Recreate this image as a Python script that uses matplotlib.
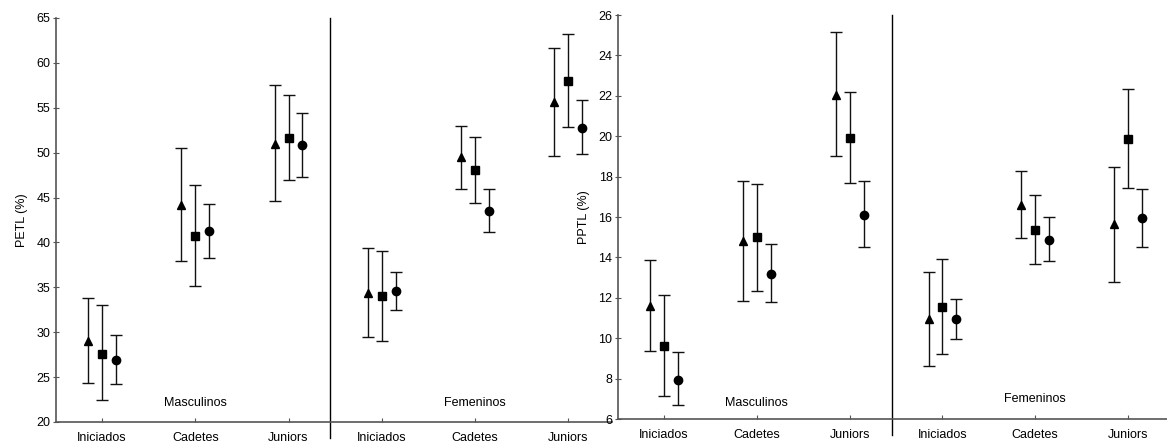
import matplotlib
matplotlib.use("Agg")
import matplotlib.pyplot as plt
import numpy as np

plt.rcParams['font.family'] = ['Liberation Sans', 'DejaVu Sans']

categories = ["Iniciados", "Cadetes", "Juniors", "Iniciados", "Cadetes", "Juniors"]
groups = ["Masculinos", "Femeninos"]

# PETL (%) : mean, upper, lower for triangle / square / circle series
petl_tri = [29.0, 44.2, 51.0, 34.4, 49.5, 55.6]
petl_tri_hi = [33.8, 50.5, 57.5, 39.4, 53.0, 61.7]
petl_tri_lo = [24.3, 37.9, 44.6, 29.5, 46.0, 49.6]
petl_sq = [27.6, 40.7, 51.6, 34.0, 48.1, 58.0]
petl_sq_hi = [33.0, 46.4, 56.4, 39.0, 51.8, 63.2]
petl_sq_lo = [22.4, 35.2, 46.9, 29.0, 44.4, 52.9]
petl_ci = [26.9, 41.3, 50.8, 34.6, 43.5, 52.8]
petl_ci_hi = [29.7, 44.3, 54.4, 36.7, 45.9, 55.9]
petl_ci_lo = [24.2, 38.3, 47.3, 32.5, 41.2, 49.8]

# PPTL (%)
pptl_tri = [11.6, 14.8, 22.05, 10.95, 16.6, 15.65]
pptl_tri_hi = [13.85, 17.8, 25.15, 13.3, 18.3, 18.5]
pptl_tri_lo = [9.35, 11.85, 19.0, 8.6, 14.95, 12.8]
pptl_sq = [9.6, 15.0, 19.9, 11.55, 15.35, 19.85]
pptl_sq_hi = [12.15, 17.65, 22.2, 13.9, 17.1, 22.35]
pptl_sq_lo = [7.15, 12.35, 17.7, 9.2, 13.65, 17.45]
pptl_ci = [7.95, 13.2, 16.1, 10.95, 14.85, 15.95]
pptl_ci_hi = [9.3, 14.65, 17.8, 11.95, 16.0, 17.4]
pptl_ci_lo = [6.7, 11.8, 14.5, 9.95, 13.8, 14.5]

W, H = 1167, 446
fig = plt.figure(figsize=(W / 100, H / 100), dpi=100)

def px_axes(l, r, top, bottom):
    return fig.add_axes([l / W, (H - bottom) / H, (r - l) / W, (bottom - top) / H])

ax1 = px_axes(56, 612, 18, 422)
ax2 = px_axes(618, 1167, 15, 419)

x = np.arange(len(categories))
off = 0.15
spine_col = "#555555"

def draw(ax, series, ylim, yticks, ylabel, xlim, divider, label_ys):
    for (mean, hi, lo, mk, ms), dx in zip(series, (-off, 0, off)):
        mean = np.array(mean); hi = np.array(hi); lo = np.array(lo)
        yerr = np.vstack([mean - lo, hi - mean])
        ax.errorbar(x + dx, mean, yerr=yerr, fmt=mk, color="black", ms=ms,
                    ecolor="#111111", elinewidth=1.0, capsize=4.2, capthick=1.0,
                    zorder=3)
    ax.set_xlim(*xlim)
    ax.set_ylim(*ylim)
    ax.set_yticks(yticks)
    ax.set_xticks(x)
    ax.set_xticklabels(categories, fontsize=9)
    ax.tick_params(axis="y", labelsize=9, direction="inout", length=4,
                   color=spine_col, pad=2)
    ax.tick_params(axis="x", direction="in", length=3, color=spine_col, pad=7)
    ax.set_ylabel(ylabel, fontsize=9, labelpad=6)
    for s in ("top", "right"):
        ax.spines[s].set_visible(False)
    for s in ("left", "bottom"):
        ax.spines[s].set_color(spine_col)
        ax.spines[s].set_linewidth(1.2)
    ax.axvline(divider, ymin=-0.04, ymax=1.0, color="black", lw=1.0,
               clip_on=False)
    ax.text(1, label_ys[0], groups[0], ha="center", va="center", fontsize=9,
            transform=ax.get_xaxis_transform())
    ax.text(4, label_ys[1], groups[1], ha="center", va="center", fontsize=9,
            transform=ax.get_xaxis_transform())

draw(ax1,
     [(petl_tri, petl_tri_hi, petl_tri_lo, "^", 5.5),
      (petl_sq, petl_sq_hi, petl_sq_lo, "s", 5.5),
      (petl_ci, petl_ci_hi, petl_ci_lo, "o", 6)],
     (20, 65), np.arange(20, 66, 5), "PETL (%)", (-0.494, 5.47), 2.45,
     (0.047, 0.048))

draw(ax2,
     [(pptl_tri, pptl_tri_hi, pptl_tri_lo, "^", 5.5),
      (pptl_sq, pptl_sq_hi, pptl_sq_lo, "s", 5.5),
      (pptl_ci, pptl_ci_hi, pptl_ci_lo, "o", 6)],
     (6, 26), np.arange(6, 27, 2), "PPTL (%)", (-0.496, 5.42), 2.457,
     (0.040, 0.050))

fig.savefig("out.png", dpi=100)
